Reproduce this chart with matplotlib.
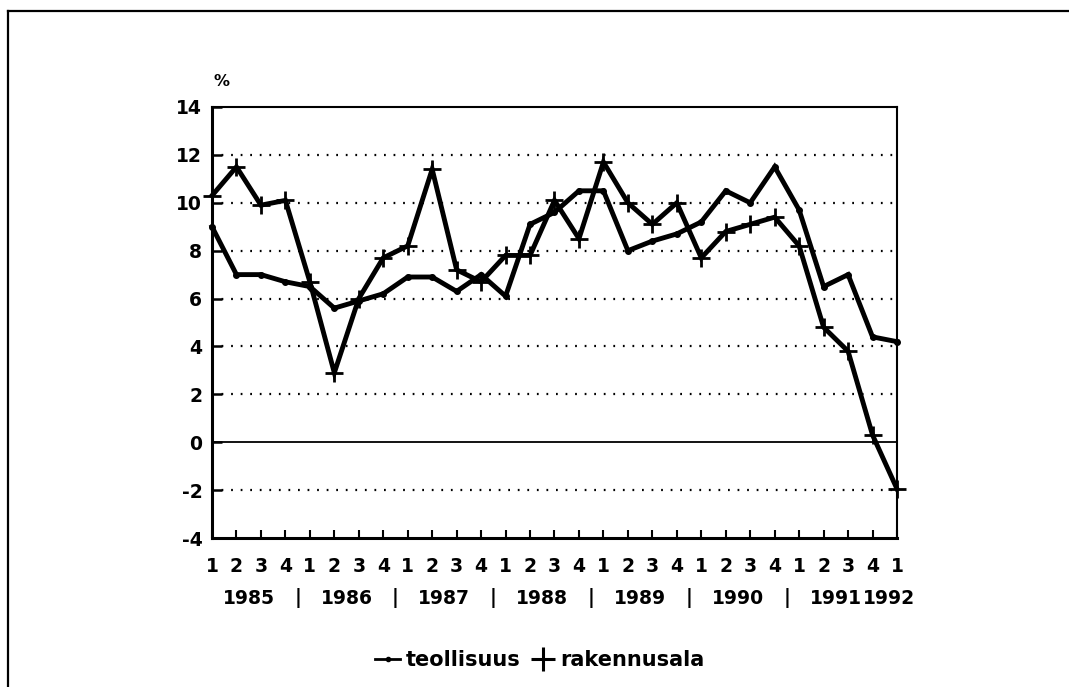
import matplotlib
matplotlib.use("Agg")
import matplotlib.pyplot as plt
from matplotlib.lines import Line2D
import matplotlib.transforms as mtransforms

# ---- data ----
quarters = ["1", "2", "3", "4"] * 7 + ["1"]
years = ["1985", "1986", "1987", "1988", "1989", "1990", "1991", "1992"]
teollisuus = [9.0, 7.0, 7.0, 6.7, 6.5, 5.6, 5.9, 6.2, 6.9, 6.9, 6.3, 7.0, 6.1,
              9.1, 9.6, 10.5, 10.5, 8.0, 8.4, 8.7, 9.2, 10.5, 10.0, 11.5,
              9.7, 6.5, 7.0, 4.4, 4.2]
rakennusala = [10.3, 11.5, 9.9, 10.1, 6.7, 2.9, 6.0, 7.7, 8.2, 11.4, 7.2, 6.7, 7.8,
               7.8, 10.1, 8.5, 11.7, 10.0, 9.1, 10.0, 7.7, 8.8, 9.1, 9.4,
               8.2, 4.8, 3.8, 0.3, -1.95]
yticks = [-4, -2, 0, 2, 4, 6, 8, 10, 12, 14]
series_names = ["teollisuus", "rakennusala"]

plt.rcParams["font.family"] = ["DejaVu Sans"]
plt.rcParams["font.weight"] = "bold"

W, H = 1069, 687
fig = plt.figure(figsize=(W / 100, H / 100), dpi=100)
L, R, T, B = 212, 897, 107, 538
ax = fig.add_axes([L / W, 1 - B / H, (R - L) / W, (B - T) / H])

x = list(range(len(quarters)))
ax.plot(x, teollisuus, color="black", lw=3.5, marker="o", ms=4,
        solid_joinstyle="miter", clip_on=False, zorder=4)
ax.plot(x, rakennusala, color="black", lw=3.5, marker="+", ms=13, mew=2.0,
        solid_joinstyle="miter", clip_on=False, zorder=4)

ax.set_xlim(0, len(quarters) - 1)
ax.set_ylim(-4, 14)
ax.set_yticks(yticks)
ax.set_yticklabels([str(v) for v in yticks], fontsize=13.5, fontweight="bold")
ax.set_xticks(x)
ax.set_xticklabels(quarters, fontsize=13.5, fontweight="bold")
ax.tick_params(axis="y", direction="in", length=7, width=1.8, pad=7)
ax.tick_params(axis="x", direction="in", length=6, width=1.5, pad=14)

for v in yticks:
    if v == 0:
        ax.axhline(v, color="black", lw=1.3, zorder=2)
    elif -4 < v < 14:
        ax.axhline(v, color="black", lw=1.6, ls=(0, (0.8, 3.5)), zorder=2)

for side, w in [("left", 2.2), ("bottom", 2.2), ("top", 1.5), ("right", 1.5)]:
    ax.spines[side].set_linewidth(w)

# percent label
fig.text(221 / W, 1 - 81 / H, "%", ha="center", va="center",
         fontsize=11.5, fontweight="bold")

# year labels under the quarters
trans = mtransforms.blended_transform_factory(ax.transData, fig.transFigure)
ylab = 1 - 598 / H
for k, yr in enumerate(years[:-1]):
    ax.text(4 * k + 1.5, ylab, yr, transform=trans, ha="center", va="center",
            fontsize=13.5, fontweight="bold")
    if k < len(years) - 2:
        ax.text(4 * k + 3.5, ylab, "|", transform=trans, ha="center",
                va="center", fontsize=13.5, fontweight="bold")
ax.text(4 * 6 + 3.67, ylab, years[-1], transform=trans, ha="center",
        va="center", fontsize=13.5, fontweight="bold")

# legend
handles = [Line2D([], [], color="black", lw=2.0, marker="o", ms=3),
           Line2D([], [], color="black", lw=0, marker="+", ms=17, mew=2.2)]
leg = fig.legend(handles, series_names, loc="center",
                 bbox_to_anchor=(540 / W, 1 - 660 / H), ncol=2, frameon=False,
                 handlelength=1.2, handletextpad=0.25, columnspacing=0.5,
                 prop={"size": 15, "weight": "bold"})

# outer frame (top and left edges)
fig.add_artist(Line2D([8 / W, 8 / W], [0, 1 - 11 / H], color="black", lw=1.6,
                      transform=fig.transFigure))
fig.add_artist(Line2D([8 / W, 1], [1 - 11 / H, 1 - 11 / H], color="black",
                      lw=1.6, transform=fig.transFigure))

fig.savefig("out.png", dpi=100)
